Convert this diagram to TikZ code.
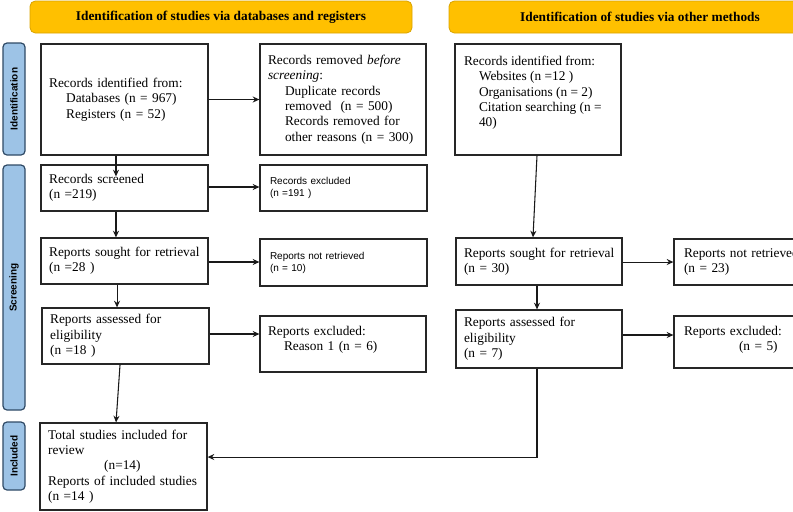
\documentclass[tikz,border=0pt]{standalone}
\usepackage{fontspec}
\setmainfont{Liberation Serif}
\newfontfamily\sansf{Liberation Sans}
\usetikzlibrary{arrows.meta,calc}
\definecolor{hdrfill}{HTML}{FFC000}
\definecolor{hdrdraw}{HTML}{D9A300}
\definecolor{tabfill}{HTML}{9DC3E6}
\definecolor{tabdraw}{HTML}{2F4A66}
\newcommand\myind[1]{\hspace*{#1}}
\begin{document}
\begin{tikzpicture}[x=0.75pt,y=-0.75pt,
  box/.style={draw=black!85, line width=0.9pt, fill=white, inner xsep=6.125pt, inner ysep=2pt,
    align=left, font=\fontsize{10}{11.5}\selectfont},
  lbox/.style={box, minimum width=125.25pt, text width=113pt},
  sbox/.style={box, font=\sansf\fontsize{7.5}{9}\selectfont},
  hdr/.style={draw=hdrdraw, fill=hdrfill, line width=0.6pt, rounded corners=4pt,
    minimum width=286.5pt, minimum height=24pt, font=\bfseries\fontsize{10}{12}\selectfont},
  tab/.style={draw=tabdraw, fill=tabfill, line width=0.9pt, rounded corners=3pt, rotate=90,
    minimum height=16.5pt, inner sep=0pt, font=\sansf\bfseries\fontsize{7.5}{9}\selectfont},
  arr/.style={draw=black!90, line width=0.8pt, -{Stealth[length=5pt,width=4.5pt]}},
]
\useasboundingbox (0,0) rectangle (793,511);
\clip (0,0) rectangle (793,511);

% headers
\node[hdr] (h1) at (221,17) {Identification of studies via databases and registers};
\node[hdr] (h2) at (640,17) {Identification of studies via other methods};

% side tabs
\node[tab, minimum width=84pt] (t1) at (14,99) {Identification};
\node[tab, minimum width=183.75pt] (t2) at (14,287.5) {Screening};
\node[tab, minimum width=51pt] (t3) at (14,456) {Included};

% left column
\node[lbox, minimum height=83.25pt] (A) at (124.5,99.5)
  {Records identified from:\\ \myind{12.75pt}Databases (n = 967)\\ \myind{12.75pt}Registers (n = 52)};
\node[box, minimum width=124.5pt, minimum height=83.25pt, inner xsep=6pt, text width=112.5pt] (B) at (343,99.5)
  {Records removed \textit{before}\\ \textit{screening}:\\ \myind{12.75pt}Duplicate records\\
   \myind{12.75pt}removed~~(n = 500)\\ \myind{12.75pt}Records removed for\\ \myind{12.75pt}\mbox{other reasons (n = 300)}};
\node[lbox, minimum height=34.5pt] (S1) at (124.5,188) {Records screened\\(n =219)};
\node[sbox, minimum width=125.25pt, minimum height=34.5pt, inner xsep=7.5pt, text width=110.25pt] (E1) at (343.5,188)
  {Records excluded\\(n =191 )};
\node[lbox, minimum height=34.5pt] (S2) at (124.5,261) {\mbox{Reports sought for retrieval}\\(n =28 )};
\node[sbox, minimum width=125.25pt, minimum height=35.25pt, inner xsep=7.5pt, text width=110.25pt] (E2) at (343.5,262.5)
  {Reports not retrieved\\(n = 10)};
\node[lbox, minimum height=42pt] (S3) at (125.5,336) {Reports assessed for\\eligibility\\(n =18 )};
\node[box, minimum width=124.5pt, minimum height=42pt, inner xsep=6pt, text width=112.5pt] (E3) at (343,344)
  {Reports excluded:\\ \myind{12pt}Reason 1 (n = 6)\\[-3.3pt]\mbox{}};
\node[lbox, minimum height=65.25pt] (I) at (123.5,466.5)
  {Total studies included for\\review\\ \myind{42pt}(n=14)\\\mbox{Reports of included studies}\\(n =14 )};

% right column
\node[box, minimum width=124.5pt, minimum height=83.25pt, inner xsep=6.75pt, inner ysep=0pt] (C) at (538,99.5)
  {\parbox[c][83.25pt][t]{111pt}{\raggedright\rule{0pt}{16pt}Records identified from:\\
   \myind{11.25pt}Websites (n =12 )\\ \myind{11.25pt}Organisations (n = 2)\\
   \myind{11.25pt}Citation searching (n =\\ \myind{11.25pt}40)}};
\node[box, minimum width=124.5pt, minimum height=35.25pt, inner xsep=6pt, text width=112.5pt] (R1) at (539,261.5)
  {\mbox{Reports sought for retrieval}\\(n = 30)};
\node[box, minimum width=117pt, minimum height=34.5pt, inner xsep=7.5pt, text width=102pt] (RE1) at (752,262)
  {\mbox{Reports not retrieved}\\(n = 23)};
\node[box, minimum width=124.5pt, minimum height=43.5pt, inner xsep=6pt, text width=112.5pt] (R2) at (539,339)
  {Reports assessed for\\eligibility\\(n = 7)};
\node[box, minimum width=117pt, minimum height=39pt, inner xsep=7.5pt, text width=102pt] (RE2) at (752,342)
  {Reports excluded:\\ \myind{41.25pt}(n = 5)\\[-6.3pt]\mbox{}};

% connectors left
\draw[arr] ([xshift=-6.4pt]A.south) -- ([xshift=-6.4pt,yshift=-9pt]S1.north);
\draw[arr] (A.east) -- (B.west);
\draw[arr] ([yshift=0.75pt]S1.east) -- ([yshift=0.75pt]S1.east -| E1.west);
\draw[arr] ([xshift=-6.4pt]S1.south) -- ([xshift=-6.4pt]S2.north);
\draw[arr] ([yshift=-0.75pt]S2.east) -- ([yshift=-0.75pt]S2.east -| E2.west);
\draw[arr] ([xshift=-5.6pt]S2.south) -- ([xshift=-5.6pt]S2.south |- S3.north);
\draw[arr] ([yshift=1.5pt]S3.east) -- ([yshift=1.5pt]S3.east -| E3.west);
\draw[arr] ([xshift=-4.1pt]S3.south) -- ([xshift=-5.6pt]I.north);

% connectors right
\draw[arr] ([xshift=-0.75pt]C.south) -- ([xshift=-4.5pt]R1.north);
\draw[arr] ([yshift=-0.4pt]R1.east) -- ([yshift=-0.4pt]R1.east -| RE1.west);
\draw[arr] ([xshift=-1.5pt]R1.south) -- ([xshift=-1.5pt]R1.south |- R2.north);
\draw[arr] ([yshift=3pt]R2.east) -- ([yshift=3pt]R2.east -| RE2.west);
\draw[arr] ([xshift=-1.5pt]R2.south) |- ([yshift=7.1pt]I.east);
\end{tikzpicture}
\end{document}
